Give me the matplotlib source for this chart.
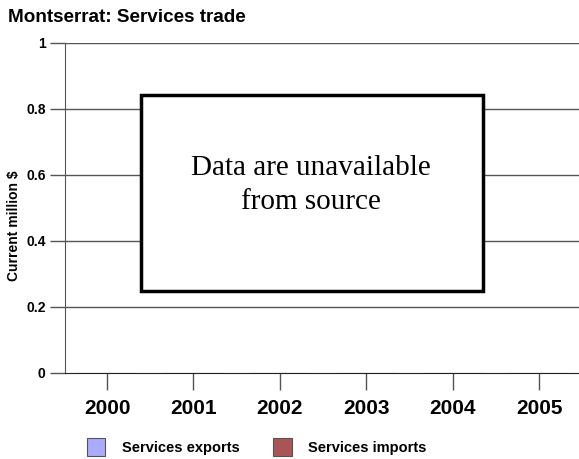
import matplotlib.pyplot as plt
import numpy as np
from matplotlib.patches import Rectangle

plt.rcParams['font.family'] = ['Liberation Sans', 'DejaVu Sans']

# Data (not available from source, so bars sit at zero)
years = ["2000", "2001", "2002", "2003", "2004", "2005"]
exports = [0, 0, 0, 0, 0, 0]
imports = [0, 0, 0, 0, 0, 0]
yticks = [0, 0.2, 0.4, 0.6, 0.8, 1]
ytick_labels = ["0", "0.2", "0.4", "0.6", "0.8", "1"]

fig = plt.figure(figsize=(5.79, 4.59), dpi=100)
ax = fig.add_axes([65 / 579, 1 - 373 / 459, 514 / 579, 330 / 459])

x = np.arange(len(years))
w = 0.35
ax.bar(x - w / 2, exports, w, color="#aaaaff", edgecolor="#555555", linewidth=0.8, label="Services exports")
ax.bar(x + w / 2, imports, w, color="#aa5555", edgecolor="#555555", linewidth=0.8, label="Services imports")

ax.set_xlim(-0.486, 5.46)
ax.set_ylim(0, 1)
ax.set_yticks(yticks)
ax.set_yticklabels(ytick_labels, fontsize=10, fontweight="bold")
ax.set_xticks(x)
ax.set_xticklabels(years, fontsize=15, fontweight="bold")
ax.tick_params(axis="y", length=11, width=1, color="#555555", pad=3)
ax.tick_params(axis="x", length=12, width=1, color="#555555", pad=7)

for yv in yticks[1:]:
    ax.axhline(yv, color="#555555", linewidth=1, zorder=0)
for s in ["top", "right"]:
    ax.spines[s].set_visible(False)
ax.spines["left"].set_color("#555555")
ax.spines["bottom"].set_color("#222222")

fig.text(14 / 579, 1 - 226 / 459, "Current million $", fontsize=10, fontweight="bold",
         rotation=90, ha="center", va="center")
fig.text(8 / 579, 1 - 18 / 459, "Montserrat: Services trade", fontsize=13.6, fontweight="bold", va="center", ha="left")

# "no data" box
box = Rectangle((141 / 579, 1 - 291 / 459), 342 / 579, 196 / 459, transform=fig.transFigure,
                facecolor="white", edgecolor="black", linewidth=2.5, zorder=5)
fig.patches.append(box)
fig.text(311 / 579, 1 - 185 / 459, "Data are unavailable\nfrom source", family=["Liberation Serif", "DejaVu Serif"],
         fontsize=21, ha="center", va="center", linespacing=1.38, zorder=6)

fig.legend(loc="center", bbox_to_anchor=(257 / 579, 1 - 447 / 459), ncol=2, frameon=False,
           prop={"size": 10.5, "weight": "bold"}, handlelength=1.25, handleheight=1.45,
           columnspacing=2.3, handletextpad=1.15)

fig.savefig("out.png", dpi=100)
